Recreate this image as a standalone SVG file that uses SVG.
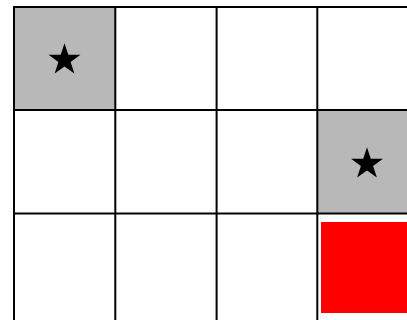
<svg xmlns="http://www.w3.org/2000/svg" width="407" height="320" viewBox="0 0 407 320">
<style>
.cell{fill:#ffffff}
.goal{fill:#b8b8b8}
.grid{stroke:#000;stroke-width:2;fill:none}
.star{fill:#000}
</style>
<defs>
<polygon id="star" points="0,-16.8 3.77,-5.19 15.98,-5.19 6.11,1.98 9.87,13.59 0,6.42 -9.87,13.59 -6.11,1.98 -15.98,-5.19 -3.77,-5.19"/>
</defs>
<rect width="407" height="320" fill="#fff"/>
<g id="cell-0-0"><rect class="goal" x="14" y="7" width="101.3" height="103"/><use href="#star" class="star" x="64.5" y="60"/></g>
<g id="cell-1-3"><rect class="goal" x="317.3" y="110" width="101.3" height="103.5"/><use href="#star" class="star" x="367" y="164"/></g>
<g id="agent"><rect x="321" y="222" width="92" height="91" fill="#ff0000"/></g>
<g id="grid">
<line class="grid" x1="14" y1="6" x2="14" y2="320"/>
<line class="grid" x1="115.3" y1="6" x2="115.3" y2="320"/>
<line class="grid" x1="216.6" y1="6" x2="216.6" y2="320"/>
<line class="grid" x1="317.3" y1="6" x2="317.3" y2="320"/>
<line class="grid" x1="13" y1="7" x2="407" y2="7"/>
<line class="grid" x1="13" y1="110" x2="407" y2="110"/>
<line class="grid" x1="13" y1="213.5" x2="407" y2="213.5"/>
</g>
</svg>
